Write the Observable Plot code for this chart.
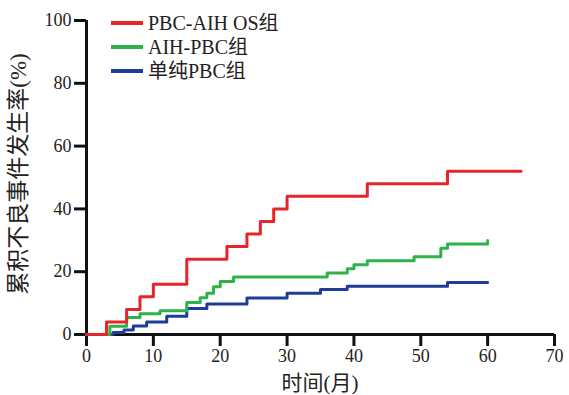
<!DOCTYPE html>
<html><head><meta charset="utf-8">
<script src="https://cdn.jsdelivr.net/npm/d3@7"></script>
<script src="https://cdn.jsdelivr.net/npm/@observablehq/plot@0.6"></script>
<style>
html,body{margin:0;padding:0;background:#fff;}
#wrap{position:relative;width:569px;height:395px;font-family:"Liberation Serif","Noto Sans CJK SC",serif;}
#legend{position:absolute;left:111px;top:11px;font-size:20px;color:#222;line-height:24px;}
#legend .row{display:flex;align-items:center;height:24px;}
#legend .sw{width:32px;height:4px;margin-right:5px;}
</style>
</head><body><div id="wrap"><div id="legend"></div></div>
<script>
const seriesNames = ["PBC-AIH OS组", "AIH-PBC组", "单纯PBC组"];
const seriesColors = ["#e8242b", "#2eb34b", "#1f3d98"];
const redMonths = [0, 3, 6, 8, 10, 15, 21, 24, 26, 28, 30, 42, 54, 65];
const redRates  = [0, 4, 8, 12, 16, 24, 28, 32, 36, 40, 44, 48, 52, 52];
const greenMonths = [0, 3.5, 6, 8, 11, 15, 17, 18, 19, 20, 22, 36, 39, 40, 42, 49, 53, 54, 60];
const greenRates  = [0, 2.6, 5.4, 6.6, 7.6, 10.2, 11.7, 13.1, 15.2, 16.9, 18.3, 19.6, 20.9, 22.2, 23.5, 24.8, 27.5, 28.8, 29.9];
const blueMonths = [0, 4, 5.6, 7, 9, 12, 15, 18, 24, 30, 35, 39, 54, 60];
const blueRates  = [0, 0.6, 1.4, 2.7, 4.0, 5.8, 8.3, 9.7, 11.6, 13.1, 14.3, 15.4, 16.6, 16.6];
const xTicks = [0, 10, 20, 30, 40, 50, 60, 70];
const yTicks = [0, 20, 40, 60, 80, 100];
const xTitle = "时间(月)";
const yTitle = "累积不良事件发生率(%)";

const mk = (xs, ys) => xs.map((x, i) => ({x, y: ys[i]}));
const red = mk(redMonths, redRates), green = mk(greenMonths, greenRates), blue = mk(blueMonths, blueRates);

const chart = Plot.plot({
  width: 569, height: 395,
  marginLeft: 86, marginRight: 15, marginTop: 20, marginBottom: 61,
  x: {domain: [0, 70]},
  y: {domain: [0, 100]},
  style: {fontFamily: '"Liberation Serif","Noto Sans CJK SC",serif', color: "#222", background: "transparent"},
  marks: [
    Plot.axisY({ticks: yTicks, tickSize: 12, tickPadding: 3, strokeWidth: 3, fontSize: 18, label: null, stroke: "#111"}),
    Plot.axisX({ticks: xTicks, tickSize: 12, tickPadding: 3, strokeWidth: 3, fontSize: 18, label: null, stroke: "#111"}),
    Plot.ruleX([0], {strokeWidth: 3, stroke: "#111"}),
    Plot.ruleY([0], {strokeWidth: 3, stroke: "#111"}),
    Plot.line(blue, {x: "x", y: "y", stroke: seriesColors[2], strokeWidth: 3, curve: "step-after"}),
    Plot.line(green, {x: "x", y: "y", stroke: seriesColors[1], strokeWidth: 3, curve: "step-after"}),
    Plot.line(red, {x: "x", y: "y", stroke: seriesColors[0], strokeWidth: 3, curve: "step-after"})
  ]
});
const wrap = document.getElementById("wrap");
wrap.insertBefore(chart, wrap.firstChild);
const svg = d3.select(chart);
svg.append("text").attr("x", 320).attr("y", 390).attr("text-anchor", "middle")
  .attr("font-size", 21).attr("fill", "#222").text(xTitle);
svg.append("text").attr("transform", "translate(26,174) rotate(-90)").attr("text-anchor", "middle")
  .attr("font-size", 23).attr("fill", "#222").text(yTitle);

const leg = d3.select("#legend");
seriesNames.forEach((n, i) => {
  const r = leg.append("div").attr("class", "row");
  r.append("div").attr("class", "sw").style("background", seriesColors[i]);
  r.append("span").text(n);
});
</script></body></html>
